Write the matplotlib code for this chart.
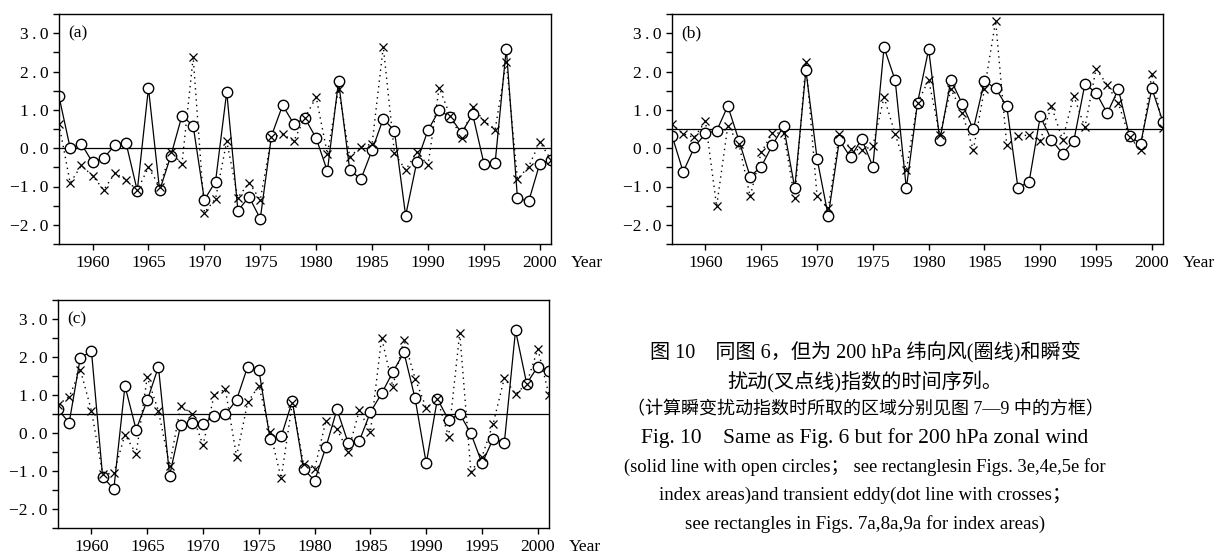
import matplotlib
matplotlib.use("Agg")
import matplotlib.pyplot as plt
import numpy as np

years = np.arange(1957, 2002)

# (a) zonal wind index (circles) and transient eddy index (crosses)
a_wind = [1.35, 0.00, 0.11, -0.37, -0.26, 0.08, 0.13, -1.11, 1.57, -1.10,
          -0.20, 0.85, 0.58, -1.35, -0.87, 1.47, -1.63, -1.27, -1.84, 0.32,
          1.12, 0.63, 0.78, 0.26, -0.60, 1.74, -0.57, -0.81, -0.05, 0.77,
          0.45, -1.76, -0.36, 0.47, 0.99, 0.81, 0.40, 0.88, -0.40, -0.39,
          2.60, -1.30, -1.39, -0.40, -0.31]
a_eddy = [0.63, -0.91, -0.45, -0.72, -1.09, -0.65, -0.83, -1.10, -0.50, -1.00,
          -0.11, -0.40, 2.37, -1.68, -1.32, 0.18, -1.29, -0.90, -1.35, 0.29,
          0.36, 0.19, 0.80, 1.33, -0.15, 1.54, -0.23, 0.04, 0.11, 2.65,
          -0.13, -0.57, -0.10, -0.44, 1.58, 0.83, 0.27, 1.07, 0.72, 0.48,
          2.25, -0.81, -0.48, 0.16, -0.30]

# (b)
b_wind = [0.33, -0.62, 0.02, 0.39, 0.45, 1.10, 0.20, -0.74, -0.48, 0.08,
          0.57, -1.04, 2.03, -0.27, -1.77, 0.21, -0.24, 0.24, -0.48, 2.63,
          1.77, -1.05, 1.18, 2.58, 0.21, 1.78, 1.16, 0.49, 1.75, 1.56,
          1.09, -1.03, -0.88, 0.83, 0.22, -0.14, 0.18, 1.67, 1.45, 0.91,
          1.54, 0.31, 0.12, 1.56, 0.68]
b_eddy = [0.63, 0.37, 0.28, 0.70, -1.52, 0.58, 0.11, -1.26, -0.11, 0.40,
          0.39, -1.31, 2.26, -1.26, -1.57, 0.37, -0.01, -0.06, 0.06, 1.33,
          0.37, -0.57, 1.18, 1.78, 0.34, 1.54, 0.93, -0.05, 1.54, 3.32,
          0.07, 0.32, 0.34, 0.20, 1.10, 0.22, 1.37, 0.54, 2.07, 1.65,
          1.17, 0.28, -0.04, 1.94, 0.52]

# (c)
c_wind = [0.62, 0.27, 1.98, 2.15, -1.15, -1.48, 1.24, 0.09, 0.86, 1.74,
          -1.12, 0.22, 0.26, 0.24, 0.45, 0.49, 0.87, 1.75, 1.66, -0.15,
          -0.09, 0.84, -0.95, -1.25, -0.38, 0.62, -0.26, -0.21, 0.55, 1.04,
          1.60, 2.12, 0.91, -0.80, 0.90, 0.34, 0.50, -0.01, -0.80, -0.15,
          -0.25, 2.70, 1.30, 1.75, 1.64]
c_eddy = [0.75, 0.95, 1.67, 0.58, -1.08, -1.06, -0.04, -0.55, 1.47, 0.58,
          -0.86, 0.72, 0.50, -0.32, 1.01, 1.15, -0.62, 0.81, 1.24, 0.03,
          -1.19, 0.80, -0.81, -0.94, 0.31, 0.10, -0.49, 0.60, 0.03, 2.51,
          1.22, 2.46, 1.43, 0.66, 0.90, -0.10, 2.63, -1.02, -0.62, 0.25,
          1.45, 1.02, 1.30, 2.21, 1.00]

ref_lines = [0.0, 0.5, 0.5]
labels = ["(a)", "(b)", "(c)"]
yticks = [-2.0, -1.0, 0.0, 1.0, 2.0, 3.0]

serif = ["Liberation Serif", "Noto Sans CJK SC", "DejaVu Serif"]
plt.rcParams["font.family"] = serif

W, H = 1223, 555
fig = plt.figure(figsize=(W / 100, H / 100), dpi=100)

# panel boxes in pixels: left, right, top, bottom
boxes = [(59, 551, 14, 244), (672, 1163, 14, 244), (58, 549, 300, 528)]
series = [(a_wind, a_eddy), (b_wind, b_eddy), (c_wind, c_eddy)]


def ylab(v):
    s = "%.1f" % abs(v)
    s = "\u2009".join(s)
    return ("\u2212" + s) if v < 0 else s


for (l, r, t, b), (wind, eddy), ref, lab in zip(boxes, series, ref_lines, labels):
    ax = fig.add_axes([l / W, (H - b) / H, (r - l) / W, (b - t) / H])
    ax.plot(years, eddy, ls=(0, (1, 3)), lw=1.0, color="black", zorder=1.5)
    ax.plot(years, wind, "-o", color="black", lw=0.9, ms=7.5, mfc="white",
            mec="black", mew=1.0, zorder=2)
    ax.plot(years, eddy, "x", ls="none", color="black", ms=5.5, mew=0.9,
            zorder=3)
    ax.axhline(ref, color="black", lw=0.9, zorder=1)
    ax.set_xlim(1957, 2001)
    ax.set_ylim(-2.5, 3.5)
    ax.set_xticks(np.arange(1960, 2001, 5))
    ax.set_yticks(yticks)
    ax.set_yticklabels([ylab(v) for v in yticks])
    ax.set_yticks(np.arange(-2.5, 3.51, 0.5), minor=True)
    ax.tick_params(axis="both", which="both", direction="out", length=4,
                   width=1.0, labelsize=12.5)
    ax.tick_params(axis="x", pad=4)
    for sp in ax.spines.values():
        sp.set_linewidth(1.0)
    ax.text(1957.8, 3.0, lab, fontsize=12.5, va="center", ha="left")
    fig.text((r + 20) / W, 1 - (b + 19) / H, "Year", fontsize=12.5,
             ha="left", va="center")

cx = 865 / W
cap = [
    ("图 10\u3000同图 6，但为 200 hPa 纬向风(圈线)和瞬变", 352, 14.5),
    ("扰动(叉点线)指数的时间序列。", 382, 14.5),
    ("（计算瞬变扰动指数时所取的区域分别见图 7—9 中的方框）", 410, 13),
    ("Fig. 10\u3000Same as Fig. 6 but for 200 hPa zonal wind", 438, 15.5),
    ("(solid line with open circles； see rectanglesin Figs. 3e,4e,5e for", 467, 13.3),
    ("index areas)and transient eddy(dot line with crosses；", 495, 13.7),
    ("see rectangles in Figs. 7a,8a,9a for index areas)", 524, 13.7),
]
for txt, y, fs in cap:
    fig.text(cx, 1 - y / H, txt, fontsize=fs, ha="center", va="center")

fig.savefig("out.png", dpi=100)
